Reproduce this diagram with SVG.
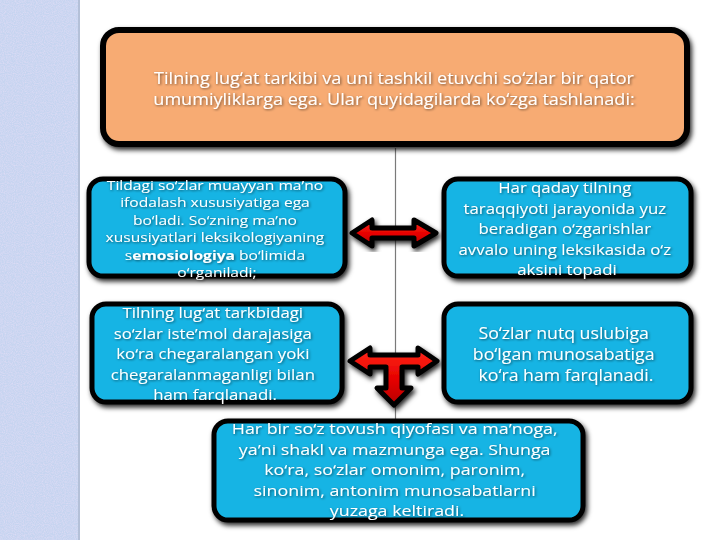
<svg xmlns="http://www.w3.org/2000/svg" width="720" height="540" viewBox="0 0 720 540">
  <defs>
    <filter id="boxShadow" x="-10%" y="-20%" width="120%" height="140%">
      <feGaussianBlur in="SourceAlpha" stdDeviation="2.5" result="b"/>
      <feOffset dx="2" dy="3" in="b" result="o"/>
      <feFlood flood-color="#000" flood-opacity="0.85"/>
      <feComposite in2="o" operator="in" result="s"/>
      <feMerge><feMergeNode in="s"/><feMergeNode in="SourceGraphic"/></feMerge>
    </filter>
    <filter id="textShadow" x="-5%" y="-20%" width="110%" height="140%">
      <feGaussianBlur in="SourceAlpha" stdDeviation="1.2" result="b"/>
      <feOffset dx="0.5" dy="1" in="b" result="o"/>
      <feFlood flood-color="#000" flood-opacity="0.55"/>
      <feComposite in2="o" operator="in" result="s"/>
      <feMerge><feMergeNode in="s"/><feMergeNode in="SourceGraphic"/></feMerge>
    </filter>
    <filter id="noise" x="0" y="0" width="100%" height="100%">
      <feTurbulence type="fractalNoise" baseFrequency="0.9" numOctaves="2" seed="3" result="n"/>
      <feColorMatrix in="n" type="matrix" values="0 0 0 0 0.85  0 0 0 0 0.76  0 0 0 0 0.95  0 0 0 0.9 -0.3" result="c"/>
      <feComposite in="c" in2="SourceGraphic" operator="atop"/>
    </filter>
    <linearGradient id="redGrad" x1="0" y1="0" x2="0" y2="1">
      <stop offset="0" stop-color="#ff2a1a"/>
      <stop offset="0.55" stop-color="#e60000"/>
      <stop offset="1" stop-color="#b80000"/>
    </linearGradient>
    <style>
      .box { fill: #14b4e4; stroke: #000; stroke-width: 5; filter: url(#boxShadow); }
      .top { fill: #f7ab73; stroke: #000; stroke-width: 6; filter: url(#boxShadow); }
      .txt { fill: #ffffff; font-family: "Open Sans", "Noto Sans", "DejaVu Sans", sans-serif; text-anchor: middle; filter: url(#textShadow); }
      .arrow { fill: url(#redGrad); stroke: #000; stroke-width: 5; stroke-linejoin: round; filter: url(#boxShadow); }
    </style>
  </defs>

  <rect x="0" y="0" width="720" height="540" fill="#ffffff"/>
  <g id="sidebar">
    <rect x="0" y="0" width="79" height="540" fill="#c6d4f0" filter="url(#noise)"/>
    <rect x="78" y="0" width="2" height="540" fill="#b4c0d8"/>
  </g>

  <g id="connectors">
    <line x1="395.5" y1="148" x2="395.5" y2="420" stroke="#7a7a7a" stroke-width="1.2"/>
    <path class="arrow" d="M352,233 L372,220 L372,228 L414,228 L414,220 L436,233 L414,246 L414,238 L372,238 L372,246 Z"/>
    <path class="arrow" d="M350,361 L370,348 L370,355 L418,355 L418,348 L437,361 L418,374 L418,367 L402,367 L402,388 L411,388 L394,405 L377,388 L386,388 L386,367 L370,367 L370,374 Z"/>
  </g>

  <g id="node-top">
    <rect class="top" x="103" y="30" width="584" height="114" rx="16"/>
    <g transform="matrix(1.13,0,0,1,-51.22,0)">
      <text class="txt" font-size="16" x="394" y="84">Tilning lug‘at tarkibi va uni tashkil etuvchi so‘zlar bir qator</text>
      <text class="txt" font-size="16" x="394" y="105.5">umumiyliklarga ega. Ular quyidagilarda ko‘zga tashlanadi:</text>
    </g>
  </g>

  <g id="node-1">
    <rect class="box" x="89" y="179" width="256" height="97" rx="14"/>
    <g transform="matrix(1.22,0,0,1,-47.74,0)">
      <text class="txt" font-size="12.8" x="217">
        <tspan x="217" y="190">Tildagi so‘zlar muayyan ma’no</tspan>
        <tspan x="217" y="207.5">ifodalash xususiyatiga ega</tspan>
        <tspan x="217" y="225">bo‘ladi. So‘zning ma’no</tspan>
        <tspan x="217" y="242.5">xususiyatlari leksikologiyaning</tspan>
        <tspan x="217" y="260">s<tspan font-weight="bold">emosiologiya</tspan> bo‘limida</tspan>
        <tspan x="217" y="277.5">o‘rganiladi;</tspan>
      </text>
    </g>
  </g>

  <g id="node-2">
    <rect class="box" x="444" y="179" width="247" height="97" rx="14"/>
    <g transform="matrix(1.12,0,0,1,-68.04,0)">
      <text class="txt" font-size="15" x="567">
        <tspan x="567" y="193.5">Har qaday tilning</tspan>
        <tspan x="567" y="214">taraqqiyoti jarayonida yuz</tspan>
        <tspan x="567" y="234.5">beradigan o‘zgarishlar</tspan>
        <tspan x="567" y="255">avvalo uning leksikasida o‘z</tspan>
        <tspan x="567" y="275.5">aksini topadi</tspan>
      </text>
    </g>
  </g>

  <g id="node-3">
    <rect class="box" x="92" y="304" width="250" height="98" rx="14"/>
    <g transform="matrix(1.12,0,0,1,-25.8,0)">
      <text class="txt" font-size="15" x="215">
        <tspan x="215" y="318.5">Tilning lug‘at tarkbidagi</tspan>
        <tspan x="215" y="339">so‘zlar iste’mol darajasiga</tspan>
        <tspan x="215" y="359.5">ko‘ra chegaralangan yoki</tspan>
        <tspan x="215" y="380">chegaralanmaganligi bilan</tspan>
        <tspan x="215" y="400.5">ham farqlanadi.</tspan>
      </text>
    </g>
  </g>

  <g id="node-4">
    <rect class="box" x="444" y="304" width="247" height="98" rx="14"/>
    <g transform="matrix(1.15,0,0,1,-84.9,0)">
      <text class="txt" font-size="15.4" x="566">
        <tspan x="566" y="339">So‘zlar nutq uslubiga</tspan>
        <tspan x="566" y="360">bo‘lgan munosabatiga</tspan>
        <tspan x="566" y="381">ko‘ra ham farqlanadi.</tspan>
      </text>
    </g>
  </g>

  <g id="node-5">
    <rect class="box" x="214" y="421" width="369" height="99" rx="14"/>
    <g transform="matrix(1.19,0,0,1,-75.43,0)">
      <text class="txt" font-size="15" x="397">
        <tspan x="397" y="434.5">Har bir so‘z tovush qiyofasi va ma’noga,</tspan>
        <tspan x="397" y="455">ya’ni shakl va mazmunga ega. Shunga</tspan>
        <tspan x="397" y="475.5">ko‘ra, so‘zlar omonim, paronim,</tspan>
        <tspan x="397" y="496">sinonim, antonim munosabatlarni</tspan>
        <tspan x="397" y="516.5">yuzaga keltiradi.</tspan>
      </text>
    </g>
  </g>
</svg>
